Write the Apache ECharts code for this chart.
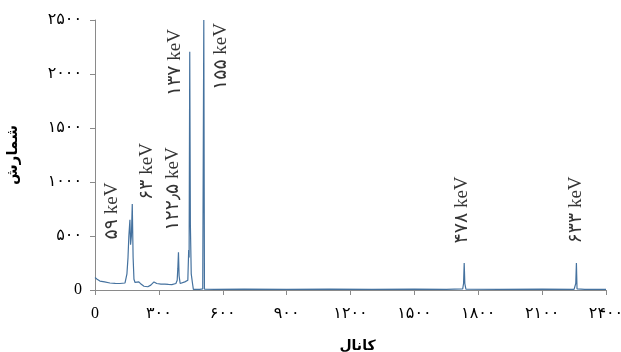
<!DOCTYPE html>
<html>
<head>
<meta charset="utf-8">
<script src="https://cdn.jsdelivr.net/npm/echarts@6/dist/echarts.min.js"></script>
<style>
  html, body { margin: 0; padding: 0; background: #fff; }
  #chart { width: 621px; height: 352px; }
</style>
</head>
<body>
<div id="chart"></div>
<script>
// spectrum (channel, counts)
var channels = [0, 10, 23, 45, 70, 95, 117, 141, 150, 155, 159, 164, 167, 171, 175, 179, 183, 188, 197, 206, 216, 230, 248, 262, 277, 290, 310, 328, 345, 361, 380, 386, 389, 392, 395, 400, 422, 436, 440, 442, 445, 448, 452, 458, 462, 470, 492, 506, 509, 511, 514, 560, 700, 900, 1100, 1300, 1500, 1650, 1727, 1731, 1734, 1737, 1742, 1900, 2100, 2250, 2255, 2258, 2261, 2264, 2300, 2400];
var counts = [115, 100, 83, 75, 65, 62, 60, 65, 150, 300, 500, 650, 420, 500, 796, 300, 100, 70, 62, 75, 55, 35, 30, 45, 75, 60, 55, 55, 52, 50, 60, 90, 200, 350, 130, 60, 75, 90, 370, 300, 2206, 600, 150, 60, 5, 8, 5, 10, 8, 2500, 8, 6, 8, 5, 9, 6, 8, 6, 10, 60, 250, 60, 8, 6, 8, 6, 10, 60, 250, 10, 6, 6];

var peakNames = ['۵۹ keV', '۶۳ keV', '۱۲۲٫۵ keV', '۱۳۷ keV', '۱۵۵ keV', '۴۷۸ keV', '۶۳۳ keV'];
var peakLabelChannel = [80, 242, 366, 375, 594, 1725, 2258];
var peakLabelCount = [731, 1097, 935, 2106, 2162, 741, 741];

var xTicks = [0, 300, 600, 900, 1200, 1500, 1800, 2100, 2400];
var xTickLabels = ['0', '۳۰۰', '۶۰۰', '۹۰۰', '۱۲۰۰', '۱۵۰۰', '۱۸۰۰', '۲۱۰۰', '۲۴۰۰'];
var yTicks = [0, 500, 1000, 1500, 2000, 2500];
var yTickLabels = ['0', '۵۰۰', '۱۰۰۰', '۱۵۰۰', '۲۰۰۰', '۲۵۰۰'];

var chart = echarts.init(document.getElementById('chart'));

var axisColor = '#8a8a8a';
var textFont = '"Liberation Serif", "DejaVu Sans", serif';

var spectrum = channels.map(function (c, i) { return [c, counts[i]]; });
var labels = peakNames.map(function (n, i) {
  return { name: n, value: [peakLabelChannel[i], peakLabelCount[i]] };
});

var option = {
  animation: false,
  grid: { left: 95, right: 15, top: 20, bottom: 62, outerBoundsMode: 'none', containLabel: false },
  xAxis: {
    type: 'value',
    min: 0,
    max: 2400,
    interval: 300,
    name: 'کانال',
    nameLocation: 'middle',
    nameGap: 49,
    nameTextStyle: { fontFamily: 'DejaVu Sans', fontWeight: 'bold', fontSize: 14, color: '#000', padding: [0, 0, 0, 14] },
    axisLine: { lineStyle: { color: axisColor, width: 1 } },
    axisTick: { length: 5, lineStyle: { color: axisColor } },
    splitLine: { show: false },
    axisLabel: {
      margin: 16,
      fontSize: 16,
      color: '#000',
      fontFamily: textFont,
      formatter: function (v) { return xTickLabels[xTicks.indexOf(v)]; }
    }
  },
  yAxis: {
    type: 'value',
    min: 0,
    max: 2500,
    interval: 500,
    name: 'شمارش',
    nameLocation: 'middle',
    nameGap: 74,
    nameRotate: 90,
    nameTextStyle: { fontFamily: 'DejaVu Sans', fontWeight: 'bold', fontSize: 15, color: '#000' },
    axisLine: { show: true, lineStyle: { color: axisColor, width: 1 } },
    axisTick: { show: true, length: 5, lineStyle: { color: axisColor } },
    splitLine: { show: false },
    axisLabel: {
      margin: 13,
      fontSize: 16,
      color: '#000',
      fontFamily: textFont,
      formatter: function (v) { return yTickLabels[yTicks.indexOf(v)]; }
    }
  },
  series: [
    {
      type: 'line',
      data: spectrum,
      showSymbol: false,
      symbol: 'none',
      sampling: 'none',
      lineStyle: { color: '#45729f', width: 1.2 },
      z: 3
    },
    {
      type: 'scatter',
      data: labels,
      symbolSize: 0,
      silent: true,
      label: {
        show: true,
        position: 'inside',
        rotate: 90,
        formatter: '{b}',
        fontFamily: textFont,
        fontSize: 19,
        color: '#000'
      },
      z: 4
    }
  ]
};

chart.setOption(option);
</script>
</body>
</html>
